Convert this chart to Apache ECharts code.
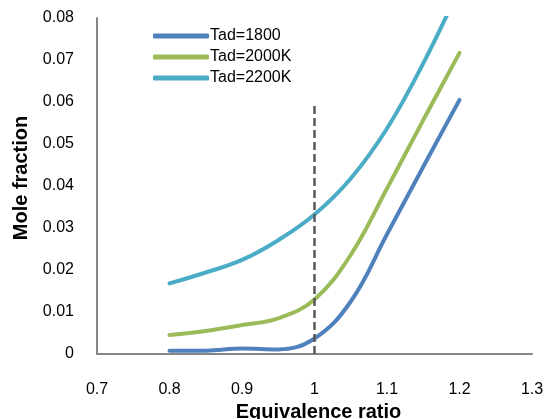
<!DOCTYPE html>
<html><head><meta charset="utf-8">
<script src="https://cdn.jsdelivr.net/npm/echarts@6/dist/echarts.min.js"></script>
<style>html,body{margin:0;padding:0;background:#fff}#c{width:544px;height:419px}</style>
</head><body><div id="c"></div>
<script>
const xValues = [0.8, 0.85, 0.9, 0.95, 1.0, 1.05, 1.1, 1.15, 1.2];
const tad1800 = [0.0008, 0.0008, 0.0013, 0.0011, 0.0037, 0.0125, 0.0285, 0.0446, 0.0605];
const tad2000 = [0.0045, 0.0055, 0.0069, 0.0085, 0.0130, 0.0236, 0.0394, 0.0557, 0.0717];
const tad2200 = [0.0168, 0.0194, 0.0224, 0.0271, 0.0332, 0.0418, 0.0537, 0.0692, 0.0871];
const seriesNames = ['Tad=1800', 'Tad=2000K', 'Tad=2200K'];
const dashX = [1.0, 1.0];
const dashY = [0, 0.06];

const font = 'Liberation Sans, Arial, sans-serif';
const colors = ['#4F81BD', '#9BBB59', '#4BACC6'];
const toPairs = (xs, ys) => xs.map((x, i) => [x, ys[i]]);

const chart = echarts.init(document.getElementById('c'), null, {renderer: 'canvas'});
chart.setOption({
  animation: false,
  backgroundColor: '#fff',
  grid: {left: 97, right: 12, top: 18, bottom: 65, containLabel: false, outerBoundsMode: 'none'},
  legend: {
    left: 148, top: 23, orient: 'vertical', itemGap: 5,
    itemWidth: 56, itemHeight: 5, icon: 'roundRect',
    data: seriesNames,
    textStyle: {fontFamily: font, fontSize: 16, color: '#000', padding: [0,0,0,-4]}
  },
  xAxis: {
    type: 'value', min: 0.7, max: 1.3, interval: 0.1,
    name: 'Equivalence ratio', nameLocation: 'middle', nameGap: 46,
    nameTextStyle: {fontFamily: font, fontSize: 20, fontWeight: 'bold', color: '#000', padding: [0,0,0,8]},
    axisLine: {show: true, onZero: false, lineStyle: {color: '#868686', width: 2}},
    axisTick: {show: false},
    splitLine: {show: false},
    axisLabel: {fontFamily: font, fontSize: 16, color: '#000', margin: 28,
      formatter: v => (Math.round(v*10)/10).toString()}
  },
  yAxis: {
    type: 'value', min: 0, max: 0.08, interval: 0.01,
    name: 'Mole fraction', nameLocation: 'middle', nameGap: 65,
    nameTextStyle: {fontFamily: font, fontSize: 20, fontWeight: 'bold', color: '#000', padding: [0,0,0,16]},
    axisLine: {show: true, lineStyle: {color: '#868686', width: 2}},
    axisTick: {show: false},
    splitLine: {show: false},
    axisLabel: {fontFamily: font, fontSize: 16, color: '#000', margin: 23,
      formatter: v => (Math.round(v*100)/100).toString()}
  },
  series: [
    {name: seriesNames[0], type: 'line', smooth: 0.4, showSymbol: false, clip: true,
     data: toPairs(xValues, tad1800), lineStyle: {color: colors[0], width: 4, cap: 'round'}, itemStyle: {color: colors[0]}},
    {name: seriesNames[1], type: 'line', smooth: 0.4, showSymbol: false, clip: true,
     data: toPairs(xValues, tad2000), lineStyle: {color: colors[1], width: 4, cap: 'round'}, itemStyle: {color: colors[1]}},
    {name: seriesNames[2], type: 'line', smooth: 0.4, showSymbol: false, clip: true,
     data: toPairs(xValues, tad2200), lineStyle: {color: colors[2], width: 4, cap: 'round'}, itemStyle: {color: colors[2]}},
    {name: 'dash', type: 'line', showSymbol: false, silent: true,
     data: toPairs(dashX, dashY), lineStyle: {color: '#595959', width: 2.5, type: [8, 4]}, z: 5}
  ]
});
</script></body></html>
